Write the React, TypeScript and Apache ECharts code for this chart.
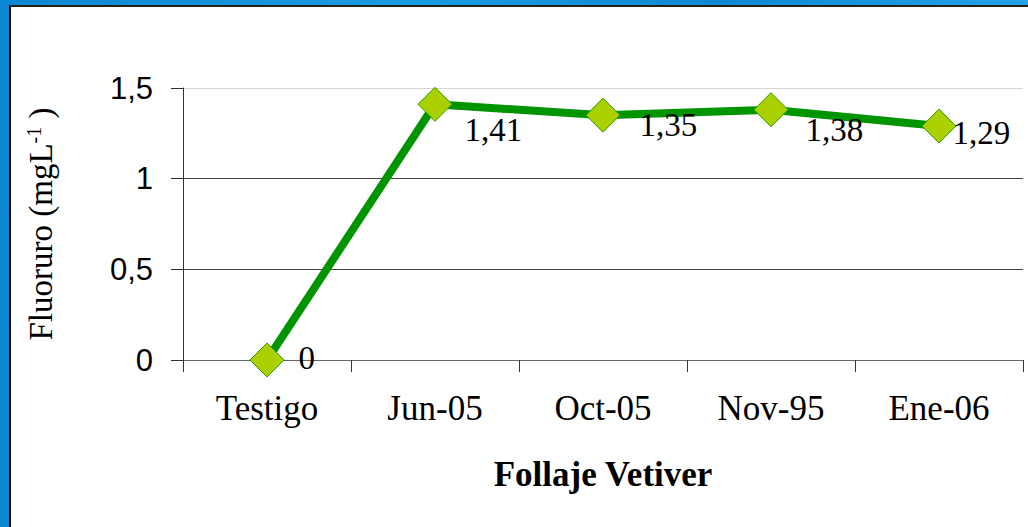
import React, { useEffect, useRef } from "react";
import * as echarts from "echarts";

const categories = ["Testigo", "Jun-05", "Oct-05", "Nov-95", "Ene-06"];
const fluoruro = [0, 1.41, 1.35, 1.38, 1.29];
const yTicks = { min: 0, max: 1.5, interval: 0.5 };
// label placement offsets (style only), relative to symbol box
const labelOffsets = [
  [49, 15],
  [47, 43],
  [54, 27],
  [52, 38],
  [31, 24],
];

const fmt = (v: number) => String(v).replace(".", ",");

export default function App() {
  const ref = useRef<HTMLDivElement>(null);
  useEffect(() => {
    if (!ref.current) return;
    const chart = echarts.init(ref.current, null, { renderer: "svg" });
    chart.setOption({
      animation: false,
      grid: { left: 183, right: 5, top: 88, bottom: 167, containLabel: false },
      xAxis: {
        type: "category",
        data: categories,
        boundaryGap: true,
        name: "Follaje Vetiver",
        nameLocation: "middle",
        nameGap: 97,
        nameTextStyle: {
          fontFamily: "Liberation Serif",
          fontWeight: "bold",
          fontSize: 35,
          color: "#000",
        },
        axisLine: { show: true, lineStyle: { color: "#666", width: 1 } },
        axisTick: { show: true, interval: 0, length: 12, lineStyle: { color: "#333" } },
        axisLabel: {
          interval: 0,
          margin: 31,
          fontFamily: "Liberation Serif",
          fontSize: 35,
          color: "#000",
        },
      },
      yAxis: {
        type: "value",
        min: yTicks.min,
        max: yTicks.max,
        interval: yTicks.interval,
        name: "{a|Fluoruro (mgL}{s|-1}{a| )}",
        nameLocation: "middle",
        nameGap: 126,
        nameRotate: 90,
        nameTextStyle: {
          color: "#000",
          rich: {
            a: { fontFamily: "Liberation Serif", fontSize: 33, color: "#000" },
            s: {
              fontFamily: "Liberation Serif",
              fontSize: 20,
              color: "#000",
              verticalAlign: "top",
            },
          },
        },
        axisLine: { show: true, lineStyle: { color: "#333", width: 1 } },
        axisTick: { show: true, length: 12, lineStyle: { color: "#333" } },
        axisLabel: {
          margin: 30,
          fontFamily: "Liberation Sans",
          fontSize: 31,
          color: "#000",
          formatter: (v: number) => fmt(v),
        },
        splitLine: {
          show: true,
          lineStyle: { color: ["#666", "#444", "#444", "#d6d6d6"], width: 1 },
        },
      },
      series: [
        {
          type: "line",
          data: fluoruro.map((v, i) => ({
            value: v,
            label: { position: labelOffsets[i] },
          })),
          symbol: "diamond",
          symbolSize: 34,
          lineStyle: { color: "#009400", width: 8 },
          itemStyle: { color: "#aad000", borderColor: "#2a9a00", borderWidth: 1 },
          label: {
            show: true,
            align: "left",
            verticalAlign: "middle",
            fontFamily: "Liberation Serif",
            fontSize: 33,
            color: "#000",
            formatter: (p: any) => fmt(p.value),
          },
          z: 5,
        },
      ],
    });
    return () => chart.dispose();
  }, []);

  return (
    <div
      style={{
        position: "fixed",
        left: 0,
        top: 0,
        width: 1028,
        height: 527,
        background: "linear-gradient(90deg, #0a86d2, #1a9ce2 40%, #0b88d4 70%, #22a3e8)",
        overflow: "hidden",
      }}
    >
      <div
        style={{
          position: "absolute",
          left: 9,
          top: 5,
          right: 0,
          bottom: 0,
          background: "#fff",
          borderLeft: "2px solid #000",
          borderTop: "2px solid #222",
        }}
      />
      <div
        ref={ref}
        style={{ position: "absolute", left: 0, top: 0, width: 1028, height: 527 }}
      />
    </div>
  );
}
